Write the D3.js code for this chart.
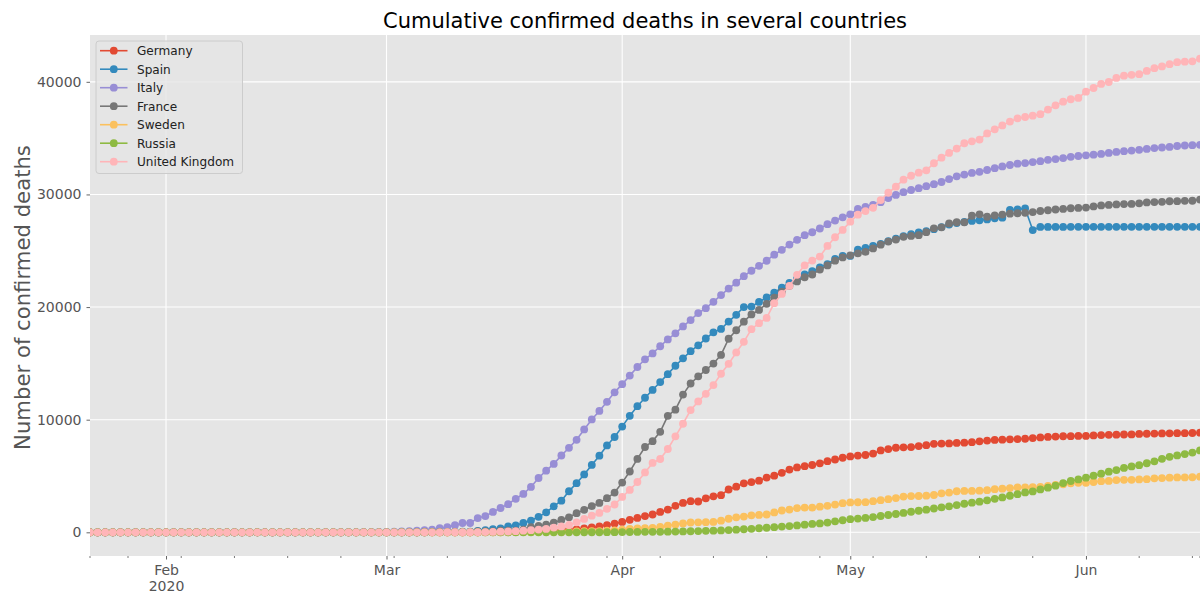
<!DOCTYPE html>
<html>
<head>
<meta charset="utf-8">
<script src="https://cdn.jsdelivr.net/npm/d3@7"></script>
<style>
  html, body { margin: 0; padding: 0; background: #ffffff; }
  svg { display: block; font-family: "DejaVu Sans", sans-serif; }
</style>
</head>
<body>
<svg id="chart" width="1200" height="593"></svg>
<script>
// Daily cumulative confirmed deaths, one value per day from 2020-01-22 to 2020-06-16.
const startDay = "2020-01-22";

const countries = ["Germany", "Spain", "Italy", "France", "Sweden", "Russia", "United Kingdom"];
const colors = ["#E24A33", "#348ABD", "#988ED5", "#777777", "#FBC15E", "#8EBA42", "#FFB5B8"];

const germany = [
  0,0,0,0,0,0,0,0,0,0, 0,0,0,0,0,0,0,0,0,0, 0,0,0,0,0,0,0,0,0,0, 0,0,0,0,0,0,0,0,0,0, 0,0,0,0,0,0,0,
  2,2,3,3,7,9,11,17,24,28,44,67,84,94,123,157,206,267,342,433,533,645,775,
  920,1107,1275,1444,1584,1810,2016,2349,2607,2767,2736,3022,3194,3294,3804,4052,4352,4459,4586,4862,5033,5279,5575,5760,5877,5976,6126,6314,6467,6623,
  6736,6812,6866,6993,7275,7392,7510,7549,7569,7661,7738,7861,7884,7897,7938,7962,8003,8081,8144,8203,8228,8261,8283,8309,8372,8428,8470,8504,8530,8540,8555,
  8563,8602,8635,8658,8673,8685,8695,8736,8752,8772,8783,8793,8801,8807,8820,8851
];

const spain = [
  0,0,0,0,0,0,0,0,0,0, 0,0,0,0,0,0,0,0,0,0, 0,0,0,0,0,0,0,0,0,0, 0,0,0,0,0,0,0,0,0,0, 0,
  1,2,3,5,10,17,28,35,54,55,133,195,289,342,533,623,830,1043,1375,1772,2311,2808,3647,4365,5138,5982,6803,7716,8464,
  9387,10348,11198,11947,12641,13341,14045,14792,15447,16081,16606,17209,17756,18056,18708,19315,20002,20043,20453,20852,21282,21717,22157,22524,22902,23190,23521,23822,24275,24543,
  24543,25100,25264,25428,25613,25857,26070,26299,26478,26621,26744,26920,27104,27321,27459,27563,27650,27709,27778,27888,27940,28628,28678,28752,26834,27117,27117,27118,27119,27121,27125,
  27127,27127,27127,27127,27127,27127,27127,27127,27127,27127,27127,27127,27127,27127,27127,27127
];

const italy = [
  0,0,0,0,0,0,0,0,0,0, 0,0,0,0,0,0,0,0,0,0, 0,0,0,0,0,0,0,0,0,0,
  1,2,3,7,10,12,17,21,29,
  34,52,79,107,148,197,233,366,463,631,827,827,1266,1441,1809,2158,2503,2978,3405,4032,4825,5476,6077,6820,7503,8215,9134,10023,10779,11591,12428,
  13155,13915,14681,15362,15887,16523,17127,17669,18279,18849,19468,19899,20465,21067,21645,22170,22745,23227,23660,24114,24648,25085,25549,25969,26384,26644,26977,27359,27682,27967,
  28236,28710,28884,29079,29315,29684,29958,30201,30395,30560,30739,30911,31106,31368,31610,31763,31908,32007,32169,32330,32486,32616,32735,32785,32877,32955,33072,33142,33229,33340,33415,
  33475,33530,33601,33689,33774,33846,33899,33964,34043,34114,34167,34223,34301,34345,34371,34405
];

const france = [
  0,0,0,0,0,0,0,0,0,0, 0,0,0,0,0,0,0,0,0,0, 0,0,0,0,
  1,1,1,1,1,1,1,1,1,1,1, 2,2,2,2,
  2,3,4,4,6,9,11,19,19,33,48,48,79,91,91,149,149,149,244,451,563,676,862,1102,1333,1698,1997,2317,2611,3030,3532,
  4414,5398,6520,7574,8093,8926,10343,10887,12228,13215,13851,14412,14986,15748,17188,17941,18703,19345,19744,20292,20829,21373,21889,22279,22648,22890,23327,23694,24121,24410,
  24594,24763,24900,25204,25537,25812,25990,26233,26313,26383,26646,26994,27077,27428,27532,27529,28108,28239,28022,28132,28215,28289,28332,28367,28432,28530,28599,28665,28717,28774,28805,
  28836,28940,29021,29068,29114,29145,29158,29212,29296,29319,29346,29398,29407,29436,29439,29547
];

const sweden = [
  0,0,0,0,0,0,0,0,0,0, 0,0,0,0,0,0,0,0,0,0, 0,0,0,0,0,0,0,0,0,0, 0,0,0,0,0,0,0,0,0,0, 0,0,0,0,0,0,0,0,0,
  1,1,1,2,3,6,7,10,11,16,20,21,25,36,62,77,105,105,110,146,180,
  239,308,358,373,401,477,591,687,793,870,887,899,919,1033,1203,1333,1400,1511,1540,1580,1765,1937,2021,2152,2192,2194,2274,2355,2462,2586,
  2653,2669,2679,2769,2854,2941,3040,3175,3220,3225,3256,3313,3460,3529,3646,3674,3679,3698,3743,3831,3871,3925,3992,3998,4000,4029,4125,4220,4266,4350,4395,
  4403,4468,4542,4562,4639,4659,4659,4694,4717,4795,4814,4854,4874,4874,4891,4939
];

const russia = [
  0,0,0,0,0,0,0,0,0,0, 0,0,0,0,0,0,0,0,0,0, 0,0,0,0,0,0,0,0,0,0, 0,0,0,0,0,0,0,0,0,0, 0,0,0,0,0,0,0,0,0,0, 0,0,0,0,0,0,0,
  1,1,1,1,1,1,3,3,4,4,8,9,17,
  24,30,34,43,45,47,58,63,76,94,106,130,148,170,198,232,273,313,361,405,456,513,555,615,681,747,794,867,972,1073,
  1169,1222,1280,1356,1451,1537,1625,1723,1827,1915,2009,2116,2212,2305,2418,2537,2631,2722,2837,2972,3099,3249,3388,3541,3633,3807,3968,4142,4374,4555,4693,
  4855,5031,5208,5384,5528,5717,5851,5963,6134,6308,6522,6705,6829,6948,7081,7274
];

const unitedKingdom = [
  0,0,0,0,0,0,0,0,0,0, 0,0,0,0,0,0,0,0,0,0, 0,0,0,0,0,0,0,0,0,0, 0,0,0,0,0,0,0,0,0,0, 0,0,0,
  1,2,2,3,4,6,8,10,12,22,35,56,72,104,144,190,245,300,420,520,650,890,1190,1480,1720,2090,2470,
  3140,3760,4470,5320,6160,6510,7400,8520,9640,10850,11620,12300,13070,14080,14960,15970,16910,18040,18570,19040,20350,21170,21880,22860,23710,24130,24480,25430,26200,26850,
  27585,28205,28520,28810,29500,30150,30690,31315,31660,31930,32140,32770,33265,33690,34075,34545,34715,34875,35420,35785,36125,36475,36755,36875,36995,37130,37540,37915,38240,38455,38570,
  39125,39450,39810,39985,40345,40550,40625,40680,40965,41215,41365,41565,41745,41785,41820,42055
];

const seriesValues = [germany, spain, italy, france, sweden, russia, unitedKingdom];

const monthTickLabels = ["Feb", "Mar", "Apr", "May", "Jun"];
const yearLabel = "2020";
const yTickValues = [0, 10000, 20000, 30000, 40000];

const titleText = "Cumulative confirmed deaths in several countries";
const yLabelText = "Number of confirmed deaths";

// ---- layout ----
const W = 1200, H = 593;
const plot = { left: 90, right: 1200, top: 35, bottom: 556 };

const svg = d3.select("#chart");

const parseDay = d3.utcParse("%Y-%m-%d");
const day0 = parseDay(startDay);
const nDays = germany.length;
const days = d3.utcDay.range(day0, d3.utcDay.offset(day0, nDays));

const series = countries.map((name, k) => ({
  name,
  color: colors[k],
  points: seriesValues[k].map((v, i) => ({ date: days[i], value: v }))
}));

const x = d3.scaleUtc()
  .domain([days[0], days[days.length - 1]])
  .range([plot.left, plot.right]);

// matplotlib-style 5% vertical margin around the data
const allVals = seriesValues.flat();
const vMin = d3.min(allVals), vMax = d3.max(allVals);
const pad = (vMax - vMin) * 0.05;
const y = d3.scaleLinear()
  .domain([vMin - pad, vMax + pad])
  .range([plot.bottom, plot.top]);

// background of the axes
svg.append("rect")
  .attr("x", plot.left).attr("y", plot.top)
  .attr("width", plot.right - plot.left).attr("height", plot.bottom - plot.top)
  .attr("fill", "#E5E5E5");

// clip region for data marks
svg.append("defs").append("clipPath").attr("id", "plot-clip")
  .append("rect")
  .attr("x", plot.left).attr("y", plot.top)
  .attr("width", plot.right - plot.left).attr("height", plot.bottom - plot.top);

const monthStarts = d3.utcMonth.range(d3.utcMonth.ceil(days[0]), d3.utcDay.offset(days[days.length - 1], 1));

// grid
const grid = svg.append("g").attr("stroke", "#ffffff").attr("stroke-width", 1.1);
grid.selectAll("line.h").data(yTickValues).join("line")
  .attr("class", "h")
  .attr("x1", plot.left).attr("x2", plot.right)
  .attr("y1", d => y(d)).attr("y2", d => y(d));
grid.selectAll("line.v").data(monthStarts).join("line")
  .attr("class", "v")
  .attr("x1", d => x(d)).attr("x2", d => x(d))
  .attr("y1", plot.top).attr("y2", plot.bottom);

// y axis
const yAxis = d3.axisLeft(y)
  .tickValues(yTickValues)
  .tickFormat(d3.format("d"))
  .tickSize(3.5)
  .tickPadding(5);
const gy = svg.append("g")
  .attr("transform", `translate(${plot.left},0)`)
  .call(yAxis);
gy.select(".domain").remove();
gy.selectAll(".tick line").attr("stroke", "#555555").attr("stroke-width", 0.9);
gy.selectAll(".tick text")
  .attr("fill", "#555555")
  .attr("font-size", "14px")
  .attr("font-family", "DejaVu Sans, sans-serif");

// x axis: major ticks at month starts
const xAxis = d3.axisBottom(x)
  .tickValues(monthStarts)
  .tickFormat((d, i) => monthTickLabels[i])
  .tickSize(3.5)
  .tickPadding(6);
const gx = svg.append("g")
  .attr("transform", `translate(0,${plot.bottom})`)
  .call(xAxis);
gx.select(".domain").remove();
gx.selectAll(".tick line").attr("stroke", "#555555").attr("stroke-width", 0.9);
gx.selectAll(".tick text")
  .attr("fill", "#555555")
  .attr("font-size", "14px")
  .attr("font-family", "DejaVu Sans, sans-serif");
// year under the first month label
gx.selectAll(".tick").filter((d, i) => i === 0)
  .append("text")
  .attr("fill", "#555555")
  .attr("font-size", "14px")
  .attr("font-family", "DejaVu Sans, sans-serif")
  .attr("text-anchor", "middle")
  .attr("y", 35)
  .text(yearLabel);

// minor ticks: weekly on Mondays plus the two ends of the axis
const minorDays = d3.utcMonday.range(days[0], d3.utcDay.offset(days[days.length - 1], 1))
  .filter(d => d.getUTCDate() !== 1)
  .concat([days[0], days[days.length - 1]]);
svg.append("g").selectAll("line").data(minorDays).join("line")
  .attr("x1", d => x(d)).attr("x2", d => x(d))
  .attr("y1", plot.bottom).attr("y2", plot.bottom + 2)
  .attr("stroke", "#555555").attr("stroke-width", 0.8);

// data
const line = d3.line().x(d => x(d.date)).y(d => y(d.value));
const marks = svg.append("g").attr("clip-path", "url(#plot-clip)");
series.forEach(s => {
  const g = marks.append("g");
  g.append("path")
    .datum(s.points)
    .attr("fill", "none")
    .attr("stroke", s.color)
    .attr("stroke-width", 1.6)
    .attr("stroke-linejoin", "round")
    .attr("d", line);
  g.selectAll("circle").data(s.points).join("circle")
    .attr("cx", d => x(d.date))
    .attr("cy", d => y(d.value))
    .attr("r", 3.9)
    .attr("fill", s.color);
});

// title
svg.append("text")
  .attr("x", (plot.left + plot.right) / 2)
  .attr("y", 28)
  .attr("text-anchor", "middle")
  .attr("font-size", "21px")
  .attr("fill", "#000000")
  .text(titleText);

// y label
svg.append("text")
  .attr("transform", `translate(30,${(plot.top + plot.bottom) / 2 + 2}) rotate(-90)`)
  .attr("text-anchor", "middle")
  .attr("font-size", "21.2px")
  .attr("fill", "#555555")
  .text(yLabelText);

// legend
const legend = svg.append("g");
legend.append("rect")
  .attr("x", 96).attr("y", 41)
  .attr("width", 146.5).attr("height", 132.5)
  .attr("rx", 3)
  .attr("fill", "#E5E5E5").attr("fill-opacity", 0.8)
  .attr("stroke", "#CCCCCC").attr("stroke-width", 1);
const rowY = d3.scaleLinear().domain([0, countries.length - 1]).range([50.7, 161.7]);
series.forEach((s, k) => {
  const gy2 = legend.append("g").attr("transform", `translate(0,${rowY(k)})`);
  gy2.append("line").attr("x1", 100).attr("x2", 127.5).attr("y1", 0).attr("y2", 0)
    .attr("stroke", s.color).attr("stroke-width", 1.6);
  gy2.append("circle").attr("cx", 113.8).attr("cy", 0).attr("r", 3.9).attr("fill", s.color);
  gy2.append("text").attr("x", 137).attr("y", 0).attr("dy", "0.36em")
    .attr("font-size", "12.1px").attr("fill", "#222222")
    .text(s.name);
});
</script>
</body>
</html>
